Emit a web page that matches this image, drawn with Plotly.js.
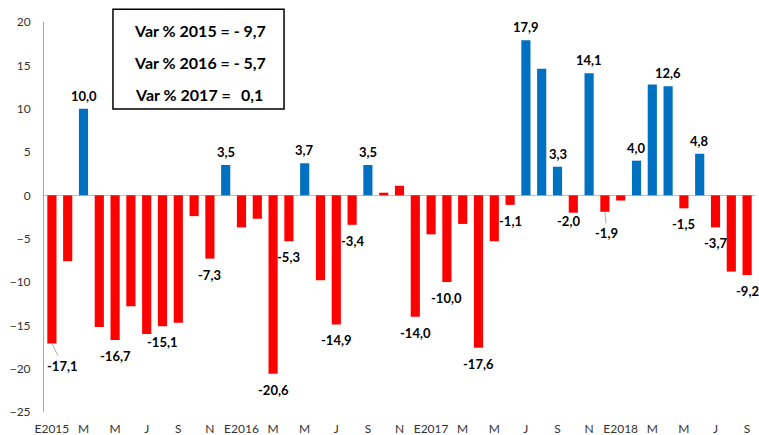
<!DOCTYPE html>
<html>
<head>
<meta charset="utf-8">
<script src="https://cdn.plot.ly/plotly-3.0.1.min.js"></script>
<style>html,body{margin:0;padding:0;background:#fff;}#chart{width:759px;height:435px;}</style>
</head>
<body>
<div id="chart"></div>
<script>
// Monthly % variation, Jan 2015 – Sep 2018
const months = ["E2015","F","M","A","M","J","J","A","S","O","N","D",
                "E2016","F","M","A","M","J","J","A","S","O","N","D",
                "E2017","F","M","A","M","J","J","A","S","O","N","D",
                "E2018","F","M","A","M","J","J","A","S"];
const values = [-17.1, -7.6, 10.0, -15.2, -16.7, -12.8, -16.0, -15.1, -14.7, -2.4, -7.3, 3.5,
                -3.7, -2.7, -20.6, -5.3, 3.7, -9.8, -14.9, -3.4, 3.5, 0.3, 1.1, -14.0,
                -4.5, -10.0, -3.3, -17.6, -5.3, -1.1, 17.9, 14.6, 3.3, -2.0, 14.1, -1.9,
                -0.6, 4.0, 12.8, 12.6, -1.5, 4.8, -3.7, -8.8, -9.2];
const labelled = [0,2,4,7,10,11,14,15,16,18,19,20,23,25,27,29,30,32,33,34,35,37,39,40,41,42,44];
const tickLabels = ["E2015","M","M","J","S","N","E2016","M","M","J","S","N",
                    "E2017","M","M","J","S","N","E2018","M","M","J","S"];
const boxLines = ["Var % 2015 = - 9,7", "Var % 2016 = - 5,7", "Var % 2017 =", "0,1"];

const idx = values.map((v, i) => i);
const tickVals = tickLabels.map((t, i) => i * 2);
const colors = values.map(v => v >= 3 ? "#0070C0" : "#FF0000");
const fmt = v => v.toFixed(1).replace(".", ",");

// label placement tweaks (presentation only)
const special = {
  0:  {showarrow: true, ax: 11, ay: 22},
  33: {xshift: -5, yshift: 2},
  35: {showarrow: true, ax: 2, ay: 21}
};

const labelFont = {family: "Lato, 'DejaVu Sans', sans-serif", size: 13, color: "#000", weight: "bold"};
const annotations = labelled.map(i => {
  const v = values[i];
  const base = {x: i, y: v, xref: "x", yref: "y", text: fmt(v), showarrow: false,
                font: labelFont, xanchor: "center"};
  if (special[i] && special[i].showarrow) {
    return Object.assign(base, {showarrow: true, arrowhead: 0, arrowwidth: 0.8, arrowcolor: "#9a9a9a",
                                ax: special[i].ax, ay: special[i].ay, standoff: 0});
  }
  if (v >= 0) { base.yanchor = "bottom"; base.yshift = 3; }
  else { base.yanchor = "top"; base.yshift = -6; }
  if (special[i]) { base.xshift = special[i].xshift; base.yshift = special[i].yshift; }
  return base;
});

const boxFont = {family: "Lato, 'DejaVu Sans', sans-serif", size: 16, color: "#000", weight: "bold"};
annotations.push(
  {xref: "paper", yref: "paper", x: 0.1238, y: 0.977, xanchor: "left", yanchor: "middle", text: boxLines[0], showarrow: false, font: boxFont},
  {xref: "paper", yref: "paper", x: 0.1238, y: 0.895, xanchor: "left", yanchor: "middle", text: boxLines[1], showarrow: false, font: boxFont},
  {xref: "paper", yref: "paper", x: 0.1252, y: 0.813, xanchor: "left", yanchor: "middle", text: boxLines[2], showarrow: false, font: boxFont},
  {xref: "paper", yref: "paper", x: 0.3108, y: 0.813, xanchor: "right", yanchor: "middle", text: boxLines[3], showarrow: false, font: boxFont}
);

const trace = {
  type: "bar", x: idx, y: values,
  marker: {color: colors, line: {width: 0}},
  hoverinfo: "skip"
};

const layout = {
  width: 759, height: 435,
  margin: {l: 44, r: 4, t: 22, b: 23},
  paper_bgcolor: "#fff", plot_bgcolor: "#fff",
  showlegend: false,
  bargap: 0.42,
  font: {family: "Lato, 'DejaVu Sans', sans-serif", size: 12, color: "#333"},
  xaxis: {
    range: [-0.5, 44.5], tickvals: tickVals, ticktext: tickLabels,
    showline: false, showgrid: false, zeroline: false, ticks: "",
    ticklabelstandoff: 8,
    tickfont: {size: 12, color: "#333"}, fixedrange: true
  },
  yaxis: {
    range: [-25, 20], dtick: 5, tick0: 0,
    showline: true, linecolor: "#a6a6a6", linewidth: 1,
    showgrid: false, zeroline: true, zerolinecolor: "#bfbfbf", zerolinewidth: 1.5,
    ticks: "", ticklabelstandoff: 10,
    tickfont: {size: 12, color: "#333"}, fixedrange: true
  },
  shapes: [{
    type: "rect", xref: "paper", yref: "paper",
    x0: 0.097, x1: 0.3376, y0: 0.777, y1: 1.033,
    line: {color: "#000", width: 1.5}, fillcolor: "rgba(0,0,0,0)"
  }],
  annotations: annotations
};

Plotly.newPlot("chart", [trace], layout, {displayModeBar: false, staticPlot: true});
</script>
</body>
</html>
